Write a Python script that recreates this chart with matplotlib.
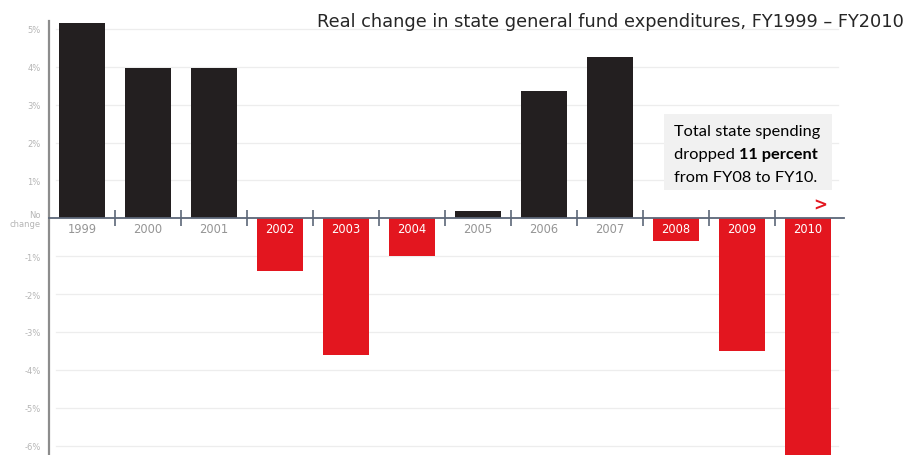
import numpy as np
import matplotlib.pyplot as plt

years = ['1999', '2000', '2001', '2002', '2003', '2004', '2005', '2006', '2007', '2008', '2009', '2010']
change = [5.15, 3.97, 3.97, -1.4, -3.6, -1.0, 0.19, 3.36, 4.26, -0.6, -3.5, -6.5]
ytick_vals = [5, 4, 3, 2, 1, 0, -1, -2, -3, -4, -5, -6]
ytick_labels = ['5%', '4%', '3%', '2%', '1%', 'No\nchange', '-1%', '-2%', '-3%', '-4%', '-5%', '-6%']

black = '#231f20'
red = '#e3161f'

fig = plt.figure(figsize=(9.07, 4.56), dpi=100)
ax = fig.add_axes([49/907, 0, 792/907, 1])
x = np.arange(len(years))
colors = [black if v >= 0 else red for v in change]

for yv in ytick_vals:
    if yv != 0:
        ax.plot([-0.4, 11.45], [yv, yv], color='#ededed', lw=0.9, zorder=0)
ax.bar(x, change, width=0.71, color=colors, zorder=2)
ax.set_xlim(-0.5, 11.5)
ax.set_ylim(-6.25, 5.79)

# zero line with divider marks
ax.plot([-0.5, 11.55], [0, 0], color='#5c6778', lw=1.3, zorder=3, clip_on=False)
ax.plot(x[:-1] + 0.5, np.zeros(len(x) - 1), ls='none', marker='|', ms=11, mew=1.2, color='#5c6778', zorder=3)

for xi, yr, v in zip(x, years, change):
    c = 'white' if v < 0 else '#959595'
    ax.text(xi, -0.28, yr, ha='center', va='center', fontsize=8.3, color=c, zorder=4)

for sp in ['top', 'right', 'bottom']:
    ax.spines[sp].set_visible(False)
ax.spines['left'].set_color('#8c8c8c')
ax.spines['left'].set_linewidth(1.6)
ax.spines['left'].set_bounds(-6.25, 5.22)
ax.set_xticks([])
ax.set_yticks(ytick_vals)
ax.set_yticklabels(ytick_labels, fontsize=6, color='#b5b5b5', linespacing=0.9)
ax.tick_params(axis='y', length=0, pad=6)

fig.text(0.997, 1 - 22/456, 'Real change in state general fund expenditures, FY1999 \u2013 FY2010',
         ha='right', va='center', fontsize=12.8, color='#262626', family='DejaVu Sans')

# annotation box
box = plt.Rectangle((664/907, 1 - 191/456), 168/907, 76/456, transform=fig.transFigure,
                    facecolor='#f1f1f1', edgecolor='none', zorder=5)
fig.patches.append(box)
tx = 674/907
fs = 11.8
fig.text(tx, 1 - 132/456, 'Total state spending', fontsize=fs, family='Lato', va='center', zorder=6)
t2 = fig.text(tx, 1 - 155/456, 'dropped ', fontsize=fs, family='Lato', va='center', zorder=6)
fig.canvas.draw()
bb = t2.get_window_extent()
fig.text(bb.x1 / fig.bbox.width, 1 - 155/456, '11 percent', fontsize=fs, family='Lato',
         fontweight='bold', va='center', zorder=6)
fig.text(tx, 1 - 178/456, 'from FY08 to FY10.', fontsize=fs, family='Lato', va='center', zorder=6)
fig.text(820/907, 1 - 206/456, '>', fontsize=12, color=red, fontweight='bold', ha='center', va='center')

fig.savefig('out.png', dpi=100)
